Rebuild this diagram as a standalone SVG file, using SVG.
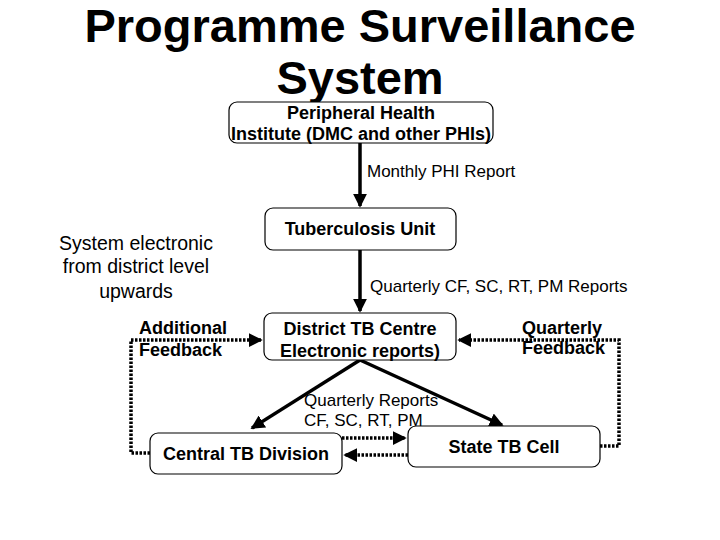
<svg xmlns="http://www.w3.org/2000/svg" width="720" height="540" viewBox="0 0 720 540">
<style>
.t{font-family:"Liberation Sans",Arial,sans-serif;fill:#000}
.b{font-weight:bold}
.box{fill:#fff;stroke:#000;stroke-width:1.2}
.s{stroke:#000;stroke-width:3.5;fill:none}
.d{stroke:#000;stroke-width:3.5;fill:none;stroke-dasharray:2.5 1.5}
</style>
<defs>
<marker id="a" markerWidth="4" markerHeight="4" refX="3.5" refY="2" orient="auto" markerUnits="strokeWidth"><path d="M0,0 L4,2 L0,4 z" fill="#000"/></marker>
</defs>
<rect width="720" height="540" fill="#fff"/>
<text class="t b" x="360" y="42" font-size="47" text-anchor="middle">Programme Surveillance</text>
<text class="t b" x="360" y="94" font-size="47" text-anchor="middle">System</text>
<g id="connectors">
<line class="s" x1="360" y1="143" x2="360" y2="206" marker-end="url(#a)"/>
<line class="s" x1="360" y1="250" x2="360" y2="311" marker-end="url(#a)"/>
<line class="s" x1="360" y1="360" x2="252" y2="428" marker-end="url(#a)"/>
<line class="s" x1="360" y1="360" x2="502" y2="425" marker-end="url(#a)"/>
<line class="d" x1="342" y1="438" x2="405" y2="438" marker-end="url(#a)"/>
<line class="d" x1="408" y1="455" x2="345" y2="455" marker-end="url(#a)"/>
<polyline class="d" points="150,453 131,453 131,340 261,340" marker-end="url(#a)"/>
<polyline class="d" points="600,446 619,446 619,340 459,340" marker-end="url(#a)"/>
</g>
<text class="t" x="367" y="177" font-size="17">Monthly PHI Report</text>
<text class="t" x="370" y="292" font-size="17">Quarterly CF, SC, RT, PM Reports</text>
<text class="t" x="304" y="406" font-size="17">Quarterly Reports</text>
<text class="t" x="304" y="426" font-size="17">CF, SC, RT, PM</text>
<text class="t" x="136" y="250" font-size="19.5" text-anchor="middle">System electronic</text>
<text class="t" x="136" y="273" font-size="19.5" text-anchor="middle">from district level</text>
<text class="t" x="136" y="298" font-size="19.5" text-anchor="middle">upwards</text>
<text class="t b" x="139" y="334" font-size="18">Additional</text>
<text class="t b" x="139" y="356" font-size="18">Feedback</text>
<text class="t b" x="522" y="334" font-size="18">Quarterly</text>
<text class="t b" x="522" y="354" font-size="18">Feedback</text>
<g id="phi"><rect class="box" x="229" y="102" width="264" height="41" rx="8"/>
<text class="t b" x="361" y="119" font-size="18" text-anchor="middle">Peripheral Health</text>
<text class="t b" x="361" y="140" font-size="18" text-anchor="middle">Institute (DMC and other PHIs)</text></g>
<g id="tu"><rect class="box" x="265" y="208" width="191" height="42" rx="8"/>
<text class="t b" x="360" y="235" font-size="18" text-anchor="middle">Tuberculosis Unit</text></g>
<g id="dtc"><rect class="box" x="264" y="313" width="192" height="47" rx="8"/>
<text class="t b" x="360" y="335" font-size="18" text-anchor="middle">District TB Centre</text>
<text class="t b" x="360" y="357" font-size="18" text-anchor="middle">Electronic reports)</text></g>
<g id="ctd"><rect class="box" x="150" y="433" width="192" height="41" rx="8"/>
<text class="t b" x="246" y="460" font-size="18" text-anchor="middle">Central TB Division</text></g>
<g id="stc"><rect class="box" x="408" y="426" width="192" height="41" rx="8"/>
<text class="t b" x="504" y="453" font-size="18" text-anchor="middle">State TB Cell</text></g>
</svg>
